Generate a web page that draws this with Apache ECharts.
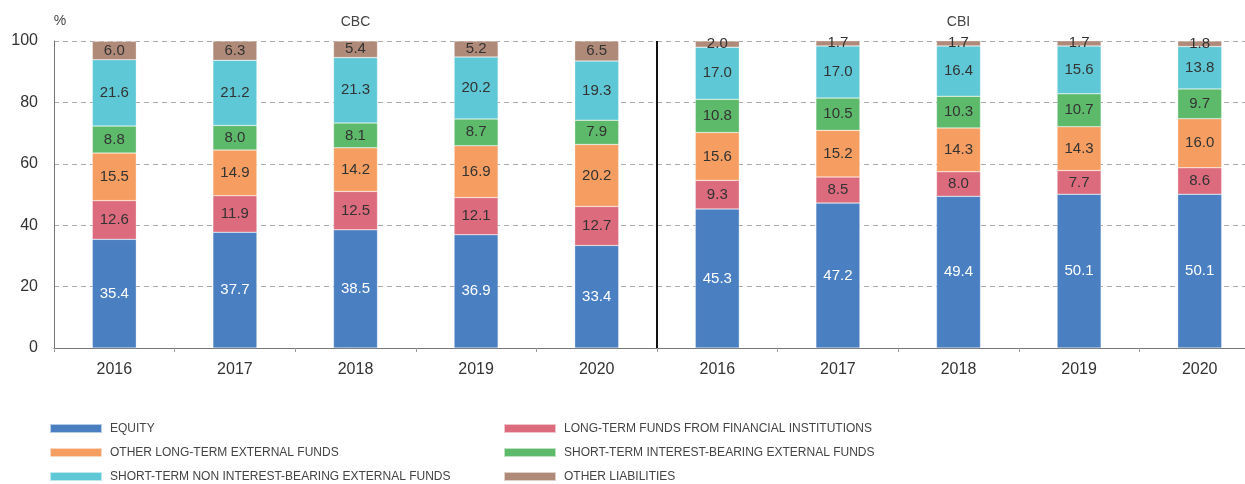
<!DOCTYPE html>
<html>
<head>
<meta charset="utf-8">
<script src="https://cdn.jsdelivr.net/npm/echarts@6/dist/echarts.min.js"></script>
<style>
  html, body { margin: 0; padding: 0; background: #fff; }
  #chart { width: 1245px; height: 484px; }
</style>
</head>
<body>
<div id="chart"></div>
<script>
// categories: CBC 2016-2020, then CBI 2016-2020
const years = ['2016', '2017', '2018', '2019', '2020', '2016', '2017', '2018', '2019', '2020']
const groups = ['CBC', 'CBI']
const groupSplit = 5 // number of CBC bars, the black divider sits after them

const equity = [35.4, 37.7, 38.5, 36.9, 33.4, 45.3, 47.2, 49.4, 50.1, 50.1]
const longTermFI = [12.6, 11.9, 12.5, 12.1, 12.7, 9.3, 8.5, 8.0, 7.7, 8.6]
const otherLongTerm = [15.5, 14.9, 14.2, 16.9, 20.2, 15.6, 15.2, 14.3, 14.3, 16.0]
const shortTermIB = [8.8, 8.0, 8.1, 8.7, 7.9, 10.8, 10.5, 10.3, 10.7, 9.7]
const shortTermNonIB = [21.6, 21.2, 21.3, 20.2, 19.3, 17.0, 17.0, 16.4, 15.6, 13.8]
const otherLiabilities = [6.0, 6.3, 5.4, 5.2, 6.5, 2.0, 1.7, 1.7, 1.7, 1.8]

const seriesDefs = [
  { name: 'EQUITY', data: equity, color: '#4a7fc1', labelColor: '#ffffff' },
  { name: 'LONG-TERM FUNDS FROM FINANCIAL INSTITUTIONS', data: longTermFI, color: '#dc6b7e', labelColor: '#333' },
  { name: 'OTHER LONG-TERM EXTERNAL FUNDS', data: otherLongTerm, color: '#f69e62', labelColor: '#333' },
  { name: 'SHORT-TERM INTEREST-BEARING EXTERNAL FUNDS', data: shortTermIB, color: '#5dba6a', labelColor: '#333' },
  { name: 'SHORT-TERM NON INTEREST-BEARING EXTERNAL FUNDS', data: shortTermNonIB, color: '#5ec8d6', labelColor: '#333' },
  { name: 'OTHER LIABILITIES', data: otherLiabilities, color: '#b08a78', labelColor: '#333' }
]

const font = "'Liberation Sans', Arial, sans-serif"

const chart = echarts.init(document.getElementById('chart'))

const legendBase = {
  orient: 'vertical',
  top: 421,
  padding: 0,
  itemWidth: 52,
  itemHeight: 9,
  itemGap: 9,
  icon: 'rect',
  textStyle: { fontFamily: font, fontSize: 12, color: '#444', lineHeight: 15, padding: [0, 0, 0, 3] }
}

const option = {
  animation: false,
  textStyle: { fontFamily: font },
  grid: { left: 54, width: 1206, top: 41, bottom: 136, outerBoundsMode: 'none' },
  legend: [
    { ...legendBase, left: 49, data: [seriesDefs[0].name, seriesDefs[2].name, seriesDefs[4].name] },
    { ...legendBase, left: 503, data: [seriesDefs[1].name, seriesDefs[3].name, seriesDefs[5].name] }
  ],
  xAxis: [
    {
      type: 'category',
      data: years,
      axisLine: { lineStyle: { color: '#777' } },
      axisTick: { show: true, length: 4, lineStyle: { color: '#999' } },
      axisLabel: { color: '#333', fontSize: 16, margin: 14 }
    },
    {
      type: 'category',
      position: 'top',
      data: groups,
      axisLine: { show: false },
      axisTick: { show: false },
      axisLabel: { color: '#444', fontSize: 14, margin: 12 }
    },
    {
      // hidden helper axis for the divider between the two groups
      type: 'value',
      min: 0,
      max: years.length,
      show: false
    }
  ],
  yAxis: {
    type: 'value',
    min: 0,
    max: 100,
    interval: 20,
    name: '%',
    nameLocation: 'end',
    nameGap: 13,
    nameTextStyle: { color: '#444', fontSize: 14, padding: [0, 0, 0, 12] },
    axisLine: { show: true, lineStyle: { color: '#777' } },
    axisTick: { show: false },
    axisLabel: { color: '#333', fontSize: 16, margin: 16 },
    splitLine: { lineStyle: { color: '#aaa', type: [5, 4] } }
  },
  series: [
    ...seriesDefs.map((s) => ({
      name: s.name,
      type: 'bar',
      stack: 'total',
      barWidth: 44,
      data: s.data,
      itemStyle: { color: s.color, borderColor: 'rgba(255,255,255,0.6)', borderWidth: 0.5 },
      label: {
        show: true,
        position: 'inside',
        color: s.labelColor,
        fontSize: 15,
        formatter: (p) => p.value.toFixed(1)
      }
    })),
    {
      type: 'line',
      xAxisIndex: 2,
      data: [],
      silent: true,
      markLine: {
        silent: true,
        symbol: 'none',
        label: { show: false },
        lineStyle: { color: '#111', width: 2, type: 'solid' },
        data: [{ xAxis: groupSplit }]
      }
    }
  ]
}

chart.setOption(option)
</script>
</body>
</html>
